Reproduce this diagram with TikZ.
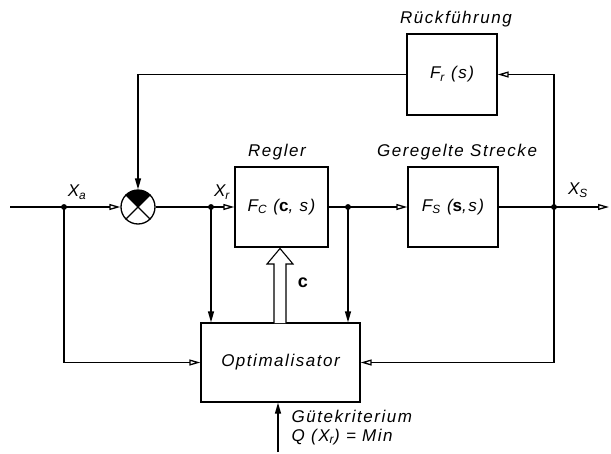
\documentclass[tikz,border=0pt]{standalone}
\usepackage{fontspec}
\setmainfont{Liberation Sans}
\usetikzlibrary{arrows.meta}
\begin{document}
\begin{tikzpicture}[x=1pt,y=-1pt,line width=1.3pt,
  lbl/.style={font=\addfontfeatures{LetterSpace=9}\itshape\fontsize{17}{20}\selectfont,inner sep=0pt},
  blk/.style={draw,minimum width=90pt,minimum height=80pt,inner sep=0pt,font=\addfontfeatures{LetterSpace=9}\itshape\fontsize{17}{20}\selectfont},
  oarr/.style={-{Triangle[open,length=11pt,width=6pt]}},
  farr/.style={-{Triangle[length=11pt,width=6pt]}},
  jdot/.style={circle,fill,draw,inner sep=0pt,minimum size=4.5pt}]
\useasboundingbox (0,0) rectangle (611,453);
% blocks
\node[blk,minimum width=93pt] (reg) at (281.5,207) {F\textsubscript{C} (\textbf{\upshape c}, s)};
\node[blk] (fs) at (453,207) {F\textsubscript{S} (\textbf{\upshape s},s)};
\node[blk,minimum height=81pt] (fr) at (452,74.5) {F\textsubscript{r} (s)};
\node[blk,minimum width=159pt,minimum height=79pt] (opt) at (280.5,362.5) {Optimalisator};
% summing junction
\node[draw,circle,minimum size=34pt,inner sep=0pt] (sum) at (138,207) {};
\fill[shift={(sum.center)},y=1pt] (0,0) -- (45:17) arc[start angle=45,end angle=135,radius=17] -- cycle;
\draw (sum.north west) -- (sum.south east);
\draw (sum.north east) -- (sum.south west);
% junctions
\coordinate (in) at (10,207);
\coordinate (out) at (609,207);
\node[jdot] (xa) at (64,207) {};
\node[jdot] (xr) at (211,207) {};
\node[jdot] (j2) at (348,207) {};
\node[jdot] (xs) at (554,207) {};
\coordinate (gk) at (278,452);
% connectors
\draw[oarr] (in) -- (xa.center) -- (sum.west);
\draw[oarr] (sum.east) -- (xr.center) -- (reg.west);
\draw[oarr] (reg.east) -- (j2.center) -- (fs.west);
\draw[oarr] (fs.east) -- (xs.center) -- (out);
\draw[oarr] (xs.center) |- (fr.east);
\draw[farr] (fr.west) -| (sum.north);
\draw[farr] (xr.center) -- (xr.center |- opt.north);
\draw[farr] (j2.center) -- (j2.center |- opt.north);
\draw[oarr] (xa.center) |- (opt.west);
\draw[oarr] (xs.center) |- (opt.east);
\draw[farr] (gk) -- (gk |- opt.south);
% hollow parameter arrow
\draw[fill=white,line width=1.1pt] (274,323) -- (274,264) -- (267,264) -- (280,248.5) -- (293,264) -- (286,264) -- (286,323);
% labels
\node[lbl] (la) at (77,192) {X\textsubscript{a}};
\node[lbl] (lr) at (222,192) {X\textsubscript{r}};
\node[lbl] (ls) at (578,190) {X\textsubscript{S}};
\node[lbl] (lreg) at (277,152) {Regler};
\node[lbl] (lfs) at (457,152) {Geregelte Strecke};
\node[lbl] (lfr) at (456,19) {Rückführung};
\node[inner sep=0pt,font=\bfseries\fontsize{18}{20}\selectfont] (lc) at (303,283) {c};
\node[lbl,anchor=west] (g1) at (291,416) {Gütekriterium};
\node[lbl,anchor=west] (g2) at (291,437) {Q (X\textsubscript{r}) = Min};
\end{tikzpicture}
\end{document}
